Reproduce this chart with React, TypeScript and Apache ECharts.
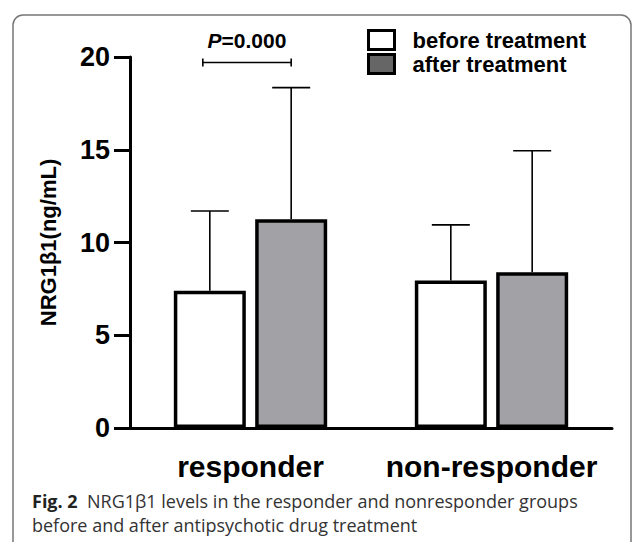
import React, { useEffect, useRef } from "react";
import * as echarts from "echarts";

const categories = ["responder", "non-responder"];
const seriesNames = ["before treatment", "after treatment"];
const beforeMean = [7.4, 7.95];
const beforeUpper = [11.7, 10.95];
const afterMean = [11.25, 8.4];
const afterUpper = [18.35, 14.95];
const yMin = 0;
const yMax = 20;
const yInterval = 5;
const pText = "=0.000";
const captionBold = "Fig. 2";
const captionLine1 = "NRG1β1 levels in the responder and nonresponder groups";
const captionLine2 = "before and after antipsychotic drug treatment";

const FONT = "'Liberation Sans', Arial, sans-serif";
const CAP_FONT = "'Open Sans', sans-serif";
const BAR_W = 72;
const GAP_PCT = 0.13;
const OFFSET = (BAR_W + BAR_W * GAP_PCT) / 2;

function errorSeries(name: string, means: number[], uppers: number[], offset: number) {
  return {
    type: "custom",
    name: name + " error",
    z: 3,
    data: means.map((m, i) => [i, m, uppers[i]]),
    renderItem: (params: any, api: any) => {
      const i = api.value(0);
      const p0 = api.coord([i, api.value(1)]);
      const p1 = api.coord([i, api.value(2)]);
      const x = p0[0] + offset;
      return {
        type: "group",
        children: [
          { type: "line", shape: { x1: x, y1: p0[1], x2: x, y2: p1[1] }, style: { stroke: "#000", lineWidth: 1.6 } },
          { type: "line", shape: { x1: x - 19, y1: p1[1], x2: x + 19, y2: p1[1] }, style: { stroke: "#000", lineWidth: 1.6 } },
        ],
      };
    },
  };
}

export default function App() {
  const ref = useRef<HTMLDivElement>(null);
  useEffect(() => {
    if (!ref.current) return;
    const chart = echarts.init(ref.current, null, { renderer: "svg" });
    chart.setOption({
      animation: false,
      backgroundColor: "#fff",
      grid: { left: 130, right: 22, top: 57, bottom: 114, containLabel: false },
      legend: {
        orient: "vertical",
        left: 362,
        top: 24,
        icon: "rect",
        itemWidth: 26,
        itemHeight: 19,
        itemGap: 2,
        selectedMode: false,
        textStyle: { fontFamily: FONT, fontWeight: "bold", fontSize: 22, color: "#000", padding: [0, 0, 0, 13] },
        data: [
          { name: seriesNames[0], itemStyle: { color: "#fff", borderColor: "#000", borderWidth: 3 } },
          { name: seriesNames[1], itemStyle: { color: "#666", borderColor: "#000", borderWidth: 3 } },
        ],
      },
      xAxis: {
        type: "category",
        data: categories,
        axisLine: { lineStyle: { color: "#000", width: 3 } },
        axisTick: { show: false },
        axisLabel: { interval: 0, fontFamily: FONT, fontWeight: "bold", fontSize: 30, color: "#000", margin: 23 },
      },
      yAxis: {
        type: "value",
        min: yMin,
        max: yMax,
        interval: yInterval,
        splitLine: { show: false },
        axisLine: { show: true, lineStyle: { color: "#000", width: 3 } },
        axisTick: { show: true, length: 16, lineStyle: { color: "#000", width: 3 } },
        axisLabel: { fontFamily: FONT, fontWeight: "bold", fontSize: 27, color: "#000", margin: 20 },
        name: "NRG1β1(ng/mL)",
        nameLocation: "middle",
        nameRotate: 90,
        nameGap: 71,
        nameTextStyle: { fontFamily: FONT, fontWeight: "bold", fontSize: 22, color: "#000" },
      },
      series: [
        {
          type: "bar",
          name: seriesNames[0],
          data: beforeMean,
          barWidth: BAR_W,
          barGap: GAP_PCT * 100 + "%",
          itemStyle: { color: "#fff", borderColor: "#000", borderWidth: 3.5 },
          z: 2,
        },
        {
          type: "bar",
          name: seriesNames[1],
          data: afterMean,
          barWidth: BAR_W,
          barGap: GAP_PCT * 100 + "%",
          itemStyle: { color: "#a2a1a6", borderColor: "#000", borderWidth: 3.5 },
          z: 2,
        },
        errorSeries(seriesNames[0], beforeMean, beforeUpper, -OFFSET),
        errorSeries(seriesNames[1], afterMean, afterUpper, OFFSET),
        {
          type: "custom",
          name: "significance",
          z: 4,
          data: [[0, 19.7]],
          renderItem: (params: any, api: any) => {
            const p = api.coord([api.value(0), api.value(1)]);
            const x1 = p[0] - OFFSET - 7;
            const x2 = p[0] + OFFSET;
            const y = p[1];
            return {
              type: "group",
              children: [
                { type: "line", shape: { x1, y1: y, x2, y2: y }, style: { stroke: "#000", lineWidth: 1.6 } },
                { type: "line", shape: { x1, y1: y - 4, x2: x1, y2: y + 4 }, style: { stroke: "#000", lineWidth: 1.6 } },
                { type: "line", shape: { x1: x2, y1: y - 4, x2: x2, y2: y + 4 }, style: { stroke: "#000", lineWidth: 1.6 } },
                {
                  type: "text",
                  x: (x1 + x2) / 2,
                  y: y - 22,
                  style: {
                    text: "{i|P}" + pText,
                    align: "center",
                    verticalAlign: "middle",
                    fontFamily: FONT,
                    fontWeight: "bold",
                    fontSize: 21,
                    fill: "#000",
                    rich: { i: { fontStyle: "italic", fontWeight: "bold", fontFamily: FONT, fontSize: 21, fill: "#000" } },
                  },
                },
              ],
            };
          },
        },
      ],
      graphic: [
        {
          type: "rect",
          shape: { x: 13, y: 15, width: 618, height: 600, r: 10 },
          style: { fill: "none", stroke: "#777", lineWidth: 1.5 },
          silent: true,
        },
        {
          type: "text",
          left: 32,
          top: 492,
          style: {
            text: "{b|" + captionBold + "}  " + captionLine1,
            fontFamily: CAP_FONT,
            fontSize: 18,
            fill: "#333",
            rich: { b: { fontWeight: "bold", fontFamily: CAP_FONT, fontSize: 18, fill: "#222" } },
          },
        },
        {
          type: "text",
          left: 32,
          top: 516,
          style: { text: captionLine2, fontFamily: CAP_FONT, fontSize: 18, fill: "#333" },
        },
      ],
    });
    return () => chart.dispose();
  }, []);
  return <div ref={ref} style={{ position: "fixed", left: 0, top: 0, width: 634, height: 542 }} />;
}
